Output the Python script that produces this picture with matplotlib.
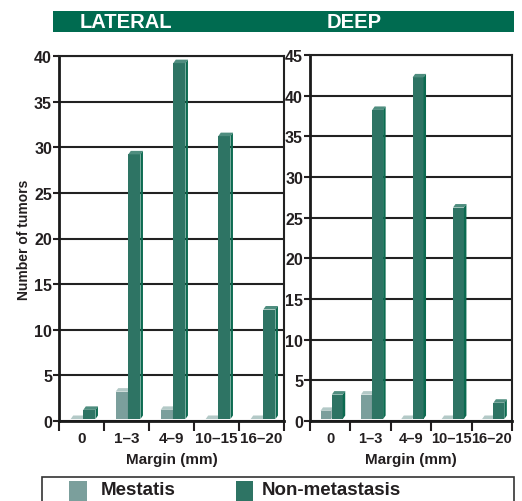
import matplotlib
matplotlib.use("Agg")
import matplotlib.pyplot as plt
from matplotlib.patches import Polygon, Rectangle
import numpy as np

# datos
margins = ["0", "1\u20133", "4\u20139", "10\u201315", "16\u201320"]
lateral_met = [0, 3, 1, 0, 0]
lateral_non = [1, 29, 39, 31, 12]
deep_met = [1, 3, 0, 0, 0]
deep_non = [3, 38, 42, 26, 2]

plt.rcParams["font.family"] = ["Liberation Sans", "DejaVu Sans"]
plt.rcParams["font.weight"] = "bold"
plt.rcParams["text.color"] = "#231f20"

c_met = "#7b9f9c"
c_met_top = "#b3c9c7"
c_non = "#2e7464"
c_non_top = "#4f8d7f"
c_non_side = "#0b6a50"
green = "#006b50"
ink = "#231f20"

fig = plt.figure(figsize=(5.22, 5.02), dpi=100)
W, H = 522, 502


def panel(rect, met, non, ymax, fs):
    ax = fig.add_axes(rect)
    n = len(met)
    x = np.arange(n)
    ax.set_xlim(-0.5, n - 0.5)
    ax.set_ylim(0, ymax)
    # profundidad 3D en unidades de datos
    wpx = rect[2] * W
    hpx = rect[3] * H
    dx = 2.5 / (wpx / n)
    dy = 3.5 / (hpx / ymax)
    base = 2.0 / (hpx / ymax)
    w = 0.27
    for vals, off, cf, ct, cs in [(met, -0.24, c_met, c_met_top, "#5f8582"),
                                  (non, 0.04, c_non, c_non_top, c_non_side)]:
        for xi, v in zip(x, vals):
            x0 = xi + off
            x1 = x0 + w
            top = v + base
            ax.add_patch(Rectangle((x0, base), w, v, facecolor=cf, edgecolor="none", zorder=3))
            ax.add_patch(Polygon([(x0, top), (x0 + dx, top + dy), (x1 + dx, top + dy), (x1, top)],
                                 closed=True, facecolor=ct, edgecolor="none", zorder=3))
            ax.add_patch(Polygon([(x1, base), (x1, top), (x1 + dx, top + dy), (x1 + dx, base + dy)],
                                 closed=True, facecolor=cs, edgecolor="none", zorder=3))
    ax.set_yticks(np.arange(0, ymax + 1, 5))
    ax.yaxis.grid(True, color="#222222", linewidth=1.5, zorder=0)
    ax.set_axisbelow(True)
    ax.set_xticks(np.arange(-0.5, n, 1.0))
    ax.set_xticklabels([])
    ax.set_xticks(x, minor=True)
    ax.set_xticklabels(margins, minor=True, fontsize=fs, fontweight="bold", color=ink)
    ax.tick_params(axis="x", which="minor", length=0, pad=7)
    ax.tick_params(axis="x", which="major", length=7, width=1.5, direction="out", color=ink)
    ax.tick_params(axis="y", length=4, width=1.5, labelsize=11.5, pad=1, color=ink, labelcolor=ink)
    for lab in ax.get_yticklabels():
        lab.set_fontweight("bold")
    for s in ["left", "bottom"]:
        ax.spines[s].set_linewidth(2)
        ax.spines[s].set_color("#1a1a1a")
    for s in ["top", "right"]:
        ax.spines[s].set_linewidth(1.5)
        ax.spines[s].set_color("#222222")
    ax.set_xlabel("Margin (mm)", fontsize=11, fontweight="bold", labelpad=5, color=ink)
    return ax


ax1 = panel([59 / W, 1 - 422 / H, 225 / W, 365 / H], lateral_met, lateral_non, 40, 11)
ax2 = panel([310 / W, 1 - 422 / H, 202 / W, 366 / H], deep_met, deep_non, 45, 10.5)
ax1.set_ylabel("Number of tumors", fontsize=10, fontweight="bold", labelpad=2, color=ink)

# banda verde del encabezado
fig.patches.append(Rectangle((53 / W, 1 - 33 / H), 461 / W, 21 / H, transform=fig.transFigure,
                             facecolor=green, edgecolor="none"))
fig.text(80 / W, 1 - 23 / H, "LATERAL", color="white", fontsize=14.5, fontweight="bold", va="center")
fig.text(327 / W, 1 - 23 / H, "DEEP", color="white", fontsize=14.5, fontweight="bold", va="center")

# leyenda
fig.patches.append(Rectangle((42 / W, -0.02), 472 / W, 0.02 + 24 / H, transform=fig.transFigure,
                             facecolor="white", edgecolor="#333333", linewidth=1.2))
fig.patches.append(Rectangle((69 / W, -0.02), 18 / W, 0.02 + 20 / H, transform=fig.transFigure,
                             facecolor=c_met, edgecolor="none"))
fig.patches.append(Rectangle((236 / W, -0.02), 17 / W, 0.02 + 20 / H, transform=fig.transFigure,
                             facecolor=c_non, edgecolor="none"))
fig.text(101 / W, 1 - 491 / H, "Mestatis", fontsize=13.5, fontweight="bold", va="center")
fig.text(262 / W, 1 - 491 / H, "Non-metastasis", fontsize=13.5, fontweight="bold", va="center")

fig.savefig("out.png", dpi=100)
